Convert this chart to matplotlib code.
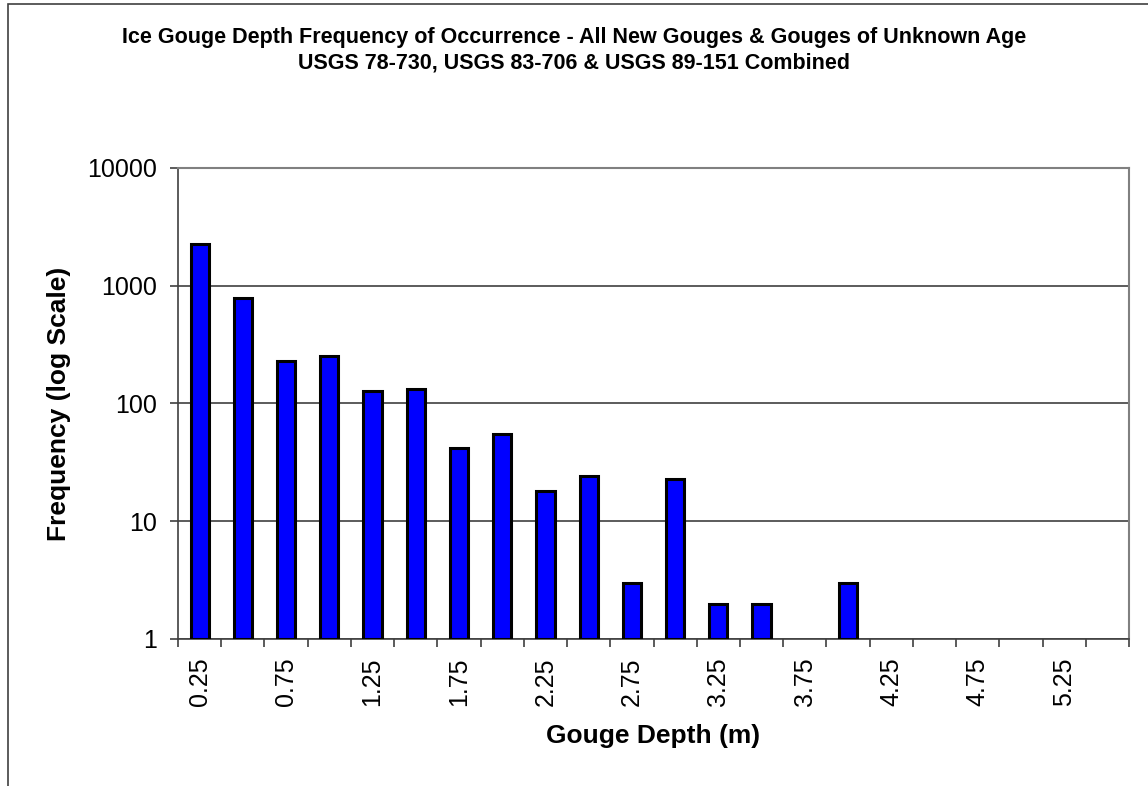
import numpy as np
import matplotlib
matplotlib.use("Agg")
import matplotlib.pyplot as plt
from matplotlib.patches import Rectangle

plt.rcParams['font.family'] = ['Liberation Sans', 'DejaVu Sans']

# Gouge depth bins (m) and number of gouges per bin
depth_bins = [0.25, 0.50, 0.75, 1.00, 1.25, 1.50, 1.75, 2.00, 2.25, 2.50, 2.75,
              3.00, 3.25, 3.50, 3.75, 4.00, 4.25, 4.50, 4.75, 5.00, 5.25, 5.50]
frequency = [2250, 780, 228, 252, 128, 133, 42, 55, 18, 24, 3,
             23, 2, 2, 0, 3, 0, 0, 0, 0, 0, 0]
y_ticks = [1, 10, 100, 1000, 10000]
title_lines = ["Ice Gouge Depth Frequency of Occurrence - All New Gouges & Gouges of Unknown Age",
               "USGS 78-730, USGS 83-706 & USGS 89-151 Combined"]

W, H = 1148, 786
fig = plt.figure(figsize=(W / 100, H / 100), dpi=100)
fig.patch.set_facecolor('white')

# outer chart-area frame
fig.patches.append(Rectangle((8 / W, -0.05), 1.2, 1 - 4 / H + 0.05, transform=fig.transFigure,
                             fill=False, edgecolor='#404040', linewidth=1.2))

left, right, top, bottom = 178, 1129, 168, 639
ax = fig.add_axes([left / W, 1 - bottom / H, (right - left) / W, (bottom - top) / H])

x = np.arange(len(depth_bins))
freq = np.array(frequency, dtype=float)
mask = freq > 0
ax.bar(x[mask], freq[mask] - 1, bottom=1, width=0.42, color='#0000FF',
       edgecolor='black', linewidth=2.2, zorder=3)

ax.set_yscale('log')
ax.set_ylim(1, 10000)
ax.set_xlim(-0.5, len(depth_bins) - 0.5)
ax.set_yticks(y_ticks)
ax.set_yticklabels([str(v) for v in y_ticks])
ax.yaxis.set_minor_locator(matplotlib.ticker.NullLocator())
ax.yaxis.grid(True, color='#404040', linewidth=1.2, zorder=1)

# category boundaries carry the tick marks; labels every other bin
ax.set_xticks(np.arange(-0.5, len(depth_bins)), minor=False)
ax.set_xticklabels([])
ax.set_xticks(x[::2], minor=True)
ax.set_xticklabels([f"{d:.2f}" for d in depth_bins[::2]], minor=True, rotation=90, fontsize=18)
ax.tick_params(axis='x', which='minor', length=0, pad=13.5)
ax.tick_params(axis='x', which='major', length=6, width=1.2, color='#404040', direction='out')
ax.tick_params(axis='y', length=6, width=1.2, color='#404040', labelsize=18, pad=9)

for side in ['top', 'right']:
    ax.spines[side].set_color('#808080')
    ax.spines[side].set_linewidth(1.5)
for side in ['left', 'bottom']:
    ax.spines[side].set_color('#404040')
    ax.spines[side].set_linewidth(1.2)

ax.set_ylabel("Frequency (log Scale)", fontsize=19, fontweight='bold')
ax.set_xlabel("Gouge Depth (m)", fontsize=19, fontweight='bold')
ax.yaxis.set_label_coords((71 - left) / (right - left), 0.5)
ax.xaxis.set_label_coords(0.5, -(724 - bottom) / (bottom - top))

fig.text(0.5, 1 - 43 / H, title_lines[0], ha='center', va='baseline', fontsize=15.5, fontweight='bold')
fig.text(0.5, 1 - 68 / H, title_lines[1], ha='center', va='baseline', fontsize=15.5, fontweight='bold')

fig.savefig("out.png", dpi=100, facecolor='white')
